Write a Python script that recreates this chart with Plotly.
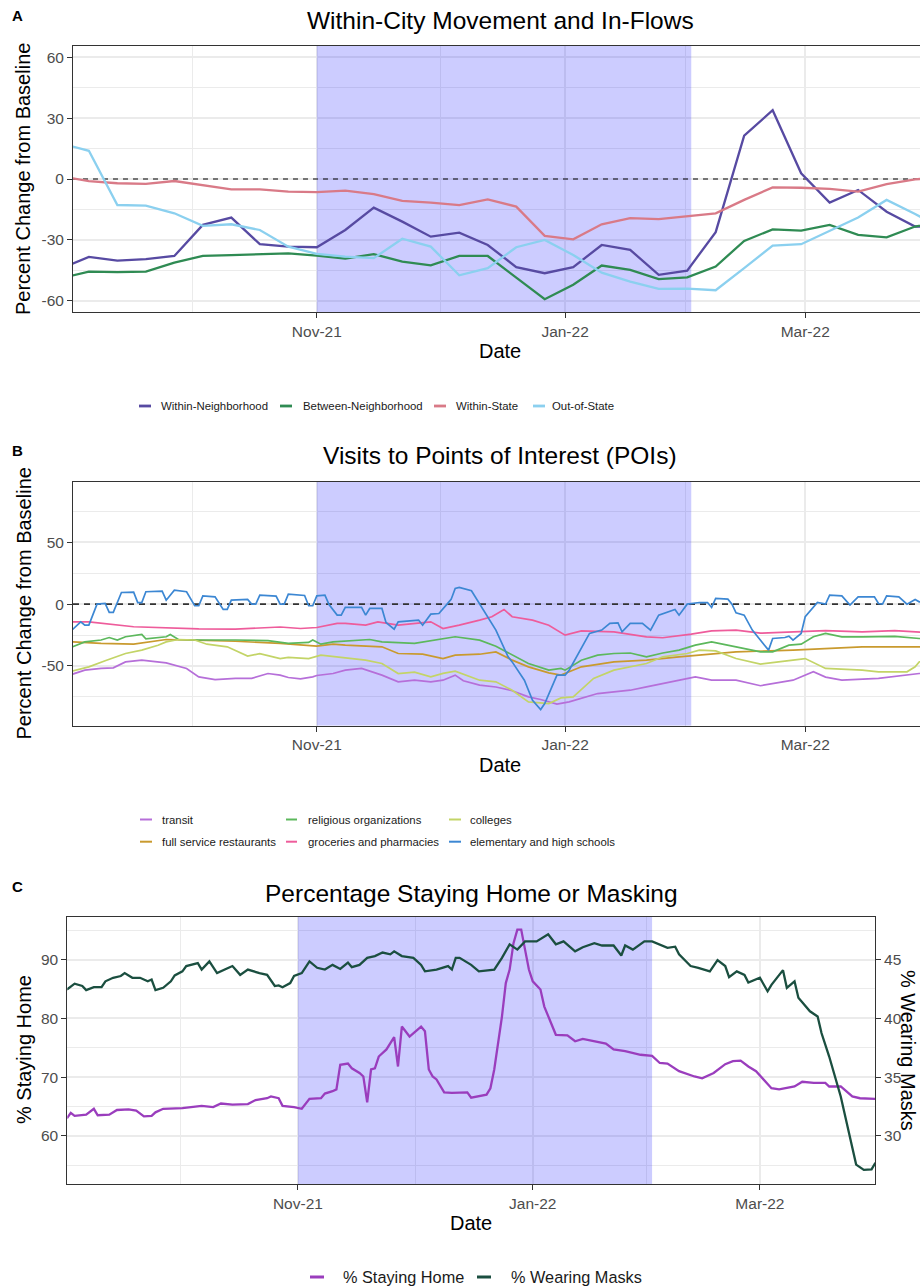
import pandas as pd
import plotly.graph_objects as go

W, H = 920, 1286
FONT = "Liberation Sans, Arial, Helvetica, sans-serif"
BASE = pd.Timestamp("2021-09-01")  # day numbers below are counted from this date

# ---------------- Panel A: weekly flows (Mondays) ----------------
flow_weeks = pd.date_range("2021-08-30", "2022-04-04", freq="7D")
within_nbhd = [-44.1, -38.4, -40.2, -39.5, -37.9, -22.6, -19.0, -32.1, -33.3, -33.6, -25.1, -14.1,
               -21.0, -28.4, -26.4, -32.5, -43.4, -46.4, -43.4, -32.5, -34.9, -47.2, -45.1, -26.2,
               21.3, 33.9, 2.8, -11.6, -5.4, -16.1, -23.4, -24.0]
between_nbhd = [-48.9, -45.6, -45.9, -45.6, -41.2, -37.9, -37.5, -37.2, -36.6, -37.7, -39.2, -37.0,
                -40.7, -42.5, -37.9, -37.9, -48.5, -59.2, -52.1, -42.6, -44.8, -49.3, -48.4, -43.1,
                -30.5, -24.8, -25.4, -22.6, -27.5, -28.7, -23.4, -21.0]
within_state = [1.4, -1.0, -2.1, -2.4, -1.0, -3.0, -5.1, -5.1, -6.2, -6.5, -5.7, -7.4,
                -10.8, -11.6, -12.9, -10.0, -13.6, -28.0, -29.7, -22.3, -19.3, -19.8, -18.5, -16.9,
                -10.3, -4.1, -4.3, -4.9, -6.2, -2.5, -0.2, 1.0]
out_of_state = [17.6, 13.9, -12.8, -13.1, -16.9, -23.1, -22.3, -25.1, -33.3, -36.9, -38.2, -39.0,
                -29.4, -33.3, -47.4, -43.9, -33.6, -30.0, -37.4, -46.1, -50.5, -54.1, -54.0, -54.8,
                -43.9, -32.8, -32.1, -25.6, -19.0, -10.3, -17.2, -25.0]
flow_names = ["Within-Neighborhood", "Between-Neighborhood", "Within-State", "Out-of-State"]
flow_colors = ["#574aa2", "#2f8b53", "#d97a87", "#8bd0ef"]

# ---------------- Panel B: POI visits (day numbers, % change) ----------------
transit_day = [1, 4, 8, 11, 14, 18, 24, 29, 32, 36, 41, 45, 49, 52, 54, 57, 60, 61, 65, 68, 72, 77, 81,
               85, 89, 92, 95, 97, 101, 105, 109, 113, 116, 120, 123, 130, 134, 138, 142, 150, 154,
               158, 164, 170, 178, 183, 186, 190, 199, 209, 211]
transit_val = [-56.6, -53.4, -52.0, -51.5, -46.7, -45.3, -47.5, -52.0, -58.8, -61.0, -60.1, -60.0,
               -56.1, -57.4, -59.3, -60.4, -58.8, -57.7, -56.1, -53.4, -52.0, -57.4, -62.8, -61.5,
               -62.8, -61.5, -57.4, -62.0, -65.5, -67.0, -70.0, -75.0, -77.1, -80.9, -79.0, -72.3,
               -70.9, -69.6, -66.9, -61.5, -58.8, -61.5, -61.5, -66.0, -61.5, -54.7, -59.0, -61.5,
               -60.0, -56.1, -56.0]

restaurant_day = [1, 8, 16, 24, 29, 41, 52, 61, 65, 68, 77, 81, 87, 92, 95, 101, 105, 109, 113, 118,
                  121, 126, 134, 142, 150, 158, 164, 178, 186, 195, 211]
restaurant_val = [-30.5, -31.8, -32.4, -28.6, -29.0, -30.0, -31.8, -34.0, -32.4, -33.2, -34.5, -39.9,
                  -40.5, -44.0, -41.3, -40.5, -38.6, -45.3, -50.7, -55.6, -57.4, -50.7, -46.7, -45.3,
                  -42.6, -40.5, -38.6, -37.2, -35.9, -34.5, -34.5]

religious_day = [1, 4, 8, 10, 12, 14, 18, 19, 24, 25, 27, 32, 41, 49, 54, 59, 60, 62, 65, 73, 74, 77,
                 85, 95, 101, 105, 109, 113, 118, 121, 122, 126, 130, 134, 138, 142, 146, 150, 154,
                 158, 164, 170, 173, 177, 180, 183, 186, 190, 195, 203, 209, 211]
religious_val = [-34.5, -30.5, -29.0, -27.0, -29.0, -26.4, -24.5, -28.0, -26.4, -24.5, -28.6, -29.0,
                 -29.0, -29.5, -31.8, -31.0, -29.0, -32.4, -30.5, -29.0, -28.6, -30.5, -31.8, -26.4,
                 -29.1, -34.0, -41.3, -48.0, -53.4, -52.0, -53.4, -45.3, -41.3, -39.9, -39.5, -42.6,
                 -39.5, -37.2, -33.2, -30.5, -34.5, -38.6, -38.6, -33.2, -32.4, -26.4, -23.7, -26.4,
                 -26.4, -26.0, -27.8, -27.8]

grocery_day = [1, 5, 16, 32, 41, 52, 57, 61, 66, 68, 73, 76, 81, 89, 92, 96, 101, 104, 107, 109, 114,
               118, 122, 126, 134, 142, 146, 153, 158, 164, 170, 178, 186, 195, 203, 211]
grocery_val = [-14.3, -14.3, -18.3, -20.0, -20.2, -18.5, -19.7, -18.9, -15.6, -15.6, -17.0, -14.3,
               -17.0, -14.3, -19.7, -17.0, -12.9, -10.2, -4.3, -10.2, -12.9, -17.0, -25.1, -21.6,
               -22.4, -26.4, -27.2, -24.3, -21.6, -21.0, -23.5, -22.4, -21.5, -22.5, -21.5, -22.9]

college_day = [1, 5, 9, 14, 18, 22, 24, 27, 31, 34, 39, 44, 47, 52, 54, 59, 62, 66, 69, 73, 77, 81,
               85, 89, 92, 95, 101, 105, 109, 113, 118, 121, 124, 129, 134, 138, 142, 146, 152, 155,
               159, 164, 170, 178, 181, 186, 195, 199, 206, 208, 209, 211]
college_val = [-54.0, -50.7, -45.8, -39.9, -37.2, -33.2, -30.5, -28.6, -29.0, -32.4, -34.5, -42.0,
               -40.0, -44.0, -43.0, -44.0, -41.3, -42.6, -44.0, -45.3, -48.0, -56.1, -55.0, -58.8,
               -56.0, -54.2, -61.5, -62.8, -69.6, -79.0, -80.4, -75.8, -75.0, -60.1, -53.4, -50.7,
               -48.0, -42.6, -39.9, -37.2, -37.8, -44.0, -48.5, -45.3, -44.0, -52.0, -53.4, -54.7,
               -54.7, -50.7, -46.7, -44.0]

school_day = [1, 3, 4, 5, 7, 9, 10, 11, 13, 16, 17, 18, 19, 23, 24, 26, 29, 31, 32, 33, 36, 38, 39,
              40, 44, 45, 46, 47, 51, 52, 53, 54, 58, 59, 60, 61, 63, 64, 66, 67, 68, 72, 73, 74, 77,
              78, 80, 81, 86, 87, 89, 91, 93, 94, 95, 96, 99, 101, 105, 108, 109, 112, 114, 116, 117,
              120, 122, 123, 128, 131, 133, 135, 136, 138, 141, 143, 145, 149, 150, 152, 155, 157,
              158, 159, 162, 163, 164, 166, 168, 171, 172, 173, 176, 177, 178, 180, 181, 184, 186,
              187, 190, 192, 194, 198, 199, 200, 201, 204, 206, 208, 209, 211]
school_val = [-20.5, -14.3, -17.0, -17.0, 0.0, 0.5, -6.7, -6.7, 9.4, 9.7, 1.3, 1.3, 10.0, 10.5, 3.2,
              11.3, 10.0, -1.3, -1.3, 6.7, 5.9, -4.3, -4.3, 3.2, 3.8, 0.0, 0.0, 7.3, 6.5, 0.0, 0.0,
              8.1, 7.0, -1.3, -1.3, 6.7, 7.3, -0.3, -8.9, -8.9, -2.7, -2.7, -8.9, -3.5, -3.5, -14.8,
              -20.2, -14.3, -12.9, -17.0, -8.1, -7.6, 0.0, 3.8, 12.7, 13.5, 10.8, 0.5, -21.0, -42.6,
              -46.7, -61.5, -77.7, -85.2, -80.4, -57.4, -57.4, -53.4, -23.7, -21.0, -15.6, -15.1,
              -22.4, -15.6, -15.6, -21.0, -8.9, -4.3, -8.9, 0.0, 1.3, 1.3, -2.7, 4.6, 4.0, 0.0, -7.0,
              -8.9, -21.0, -33.2, -37.2, -27.8, -27.0, -25.9, -29.1, -23.7, -10.2, 1.3, 0.0, 7.3,
              6.7, -0.8, 5.9, 5.9, 0.5, 0.0, 6.7, 5.9, 0.0, 3.8, 1.9, 1.9]

poi_series = [
    ("transit", transit_day, transit_val, "#b66fd9"),
    ("full service restaurants", restaurant_day, restaurant_val, "#c99a2e"),
    ("religious organizations", religious_day, religious_val, "#5cb85c"),
    ("groceries and pharmacies", grocery_day, grocery_val, "#ee5c9b"),
    ("colleges", college_day, college_val, "#c3d467"),
    ("elementary and high schools", school_day, school_val, "#3c87d3"),
]

# ---------------- Panel C: staying home / masking (day numbers) ----------------
home_day = [1, 2, 3, 6, 8, 9, 12, 14, 17, 19, 21, 23, 24, 26, 31, 34, 36, 39, 41, 44, 48, 50, 53,
            54, 56, 57, 60, 62, 64, 67, 68, 70, 71, 72, 74, 75, 77, 78, 79, 80, 81, 82, 84, 86, 87,
            88, 90, 93, 94, 95, 96, 97, 99, 101, 103, 105, 106, 108, 110, 111, 112, 114, 115, 116,
            117, 118, 119, 120, 121, 122, 124, 125, 127, 128, 131, 133, 135, 139, 141, 143, 146,
            150, 153, 155, 157, 160, 164, 166, 169, 172, 174, 176, 178, 180, 184, 186, 190, 192,
            195, 198, 199, 202, 205, 207, 211]
home_val = [63.0, 63.9, 63.4, 63.6, 64.6, 63.5, 63.6, 64.4, 64.5, 64.3, 63.3, 63.4, 64.0, 64.6, 64.7,
            64.9, 65.1, 64.9, 65.5, 65.3, 65.4, 66.1, 66.4, 66.7, 66.4, 65.1, 64.9, 64.6, 66.3, 66.4,
            67.2, 67.6, 67.9, 72.1, 72.3, 71.5, 70.7, 70.1, 65.7, 71.3, 71.5, 73.5, 74.7, 76.8, 71.8,
            78.6, 76.9, 78.6, 77.8, 71.3, 70.1, 69.6, 67.4, 67.3, 67.3, 67.4, 66.5, 66.8, 67.0, 68.1,
            71.3, 80.3, 86.0, 88.3, 92.8, 95.1, 95.1, 91.7, 88.3, 86.3, 84.9, 82.0, 78.6, 77.2,
            77.1, 76.1, 76.5, 75.9, 75.7, 74.7, 74.4, 73.8, 73.6, 72.4, 72.3, 71.0, 70.1, 69.8,
            70.7, 72.2, 72.7, 72.8, 71.8, 71.0, 68.1, 67.9, 68.4, 69.2, 69.0, 69.0, 68.4, 68.4,
            66.7, 66.4, 66.3]

mask_day = [1, 3, 5, 6, 8, 10, 11, 13, 15, 16, 18, 20, 22, 23, 24, 26, 28, 29, 31, 32, 35, 36, 38,
            40, 43, 44, 46, 48, 51, 53, 55, 56, 57, 59, 60, 62, 64, 66, 68, 70, 72, 74, 75, 77, 79,
            81, 83, 85, 86, 88, 91, 93, 94, 97, 100, 101, 102, 103, 106, 108, 112, 114, 116, 118,
            120, 123, 126, 128, 130, 133, 135, 138, 140, 143, 145, 146, 148, 151, 153, 155, 157,
            159, 160, 163, 165, 168, 170, 172, 173, 175, 177, 178, 181, 183, 184, 187, 188, 190,
            191, 194, 196, 197, 199, 202, 204, 206, 208, 210, 211]
mask_val = [42.45, 42.95, 42.75, 42.4, 42.65, 42.65, 43.15, 43.45, 43.6, 43.85, 43.45, 43.45, 43.15,
            43.3, 42.4, 42.6, 43.15, 43.65, 44.0, 44.45, 44.7, 44.15, 44.85, 43.85, 44.3, 44.45,
            43.7, 44.15, 43.85, 43.7, 42.75, 42.8, 42.65, 43.0, 43.6, 43.85, 44.85, 44.3, 44.15,
            44.55, 44.2, 44.75, 44.35, 44.55, 45.15, 45.3, 45.6, 45.45, 45.7, 45.3, 45.15, 44.55,
            44.0, 44.15, 44.45, 44.15, 45.15, 45.15, 44.55, 44.0, 44.15, 45.15, 46.3, 45.85, 46.55,
            46.55, 47.15, 46.3, 46.55, 45.7, 46.05, 46.4, 46.2, 46.2, 45.35, 46.2, 45.85, 46.55,
            46.55, 46.3, 46.0, 46.1, 45.45, 44.45, 44.3, 44.0, 44.95, 44.45, 43.5, 44.0, 43.7,
            43.05, 43.45, 42.3, 42.85, 44.1, 42.6, 43.15, 41.75, 40.6, 40.15, 38.75, 36.75, 33.35,
            30.5, 27.55, 27.1, 27.15, 27.7]

# shaded period and axis windows
shade_start, shade_end = "2021-11-01", "2022-02-01"
range_ab = ["2021-09-02 02:24", "2022-03-29 04:48"]
range_c = ["2021-09-02 02:24", "2022-03-30 21:36"]
yrange_a = [-65.5, 65.5]
yrange_b = [-98.3, 99.0]
yrange_c = [51.8, 97.3]
yrange_c_right = [25.9, 48.65]


def dates(days):
    return [BASE + pd.Timedelta(days=d) for d in days]


def px(x):
    return x / W


def py(y):
    return 1 - y / H


fig = go.Figure()

for name, vals, col in zip(flow_names, [within_nbhd, between_nbhd, within_state, out_of_state], flow_colors):
    fig.add_trace(go.Scatter(x=flow_weeks, y=vals, mode="lines", name=name, showlegend=False,
                             line=dict(color=col, width=2.3), xaxis="x", yaxis="y", hoverinfo="skip"))

for name, d, v, col in poi_series:
    assert len(d) == len(v), name
    fig.add_trace(go.Scatter(x=dates(d), y=v, mode="lines", name=name, showlegend=False,
                             line=dict(color=col, width=1.7), xaxis="x2", yaxis="y2", hoverinfo="skip"))

assert len(home_day) == len(home_val) and len(mask_day) == len(mask_val)
fig.add_trace(go.Scatter(x=dates(home_day), y=home_val, mode="lines", name="% Staying Home",
                         showlegend=False, line=dict(color="#9a3dbd", width=2.3),
                         xaxis="x3", yaxis="y3", hoverinfo="skip"))
fig.add_trace(go.Scatter(x=dates(mask_day), y=mask_val, mode="lines", name="% Wearing Masks",
                         showlegend=False, line=dict(color="#1b4f40", width=2.3),
                         xaxis="x3", yaxis="y4", hoverinfo="skip"))

# ---------------- axes ----------------
GRID = "#EBEBEB"
AXC = "#333333"
month_ticks = ["2021-11-01", "2022-01-01", "2022-03-01"]
month_text = ["Nov-21", "Jan-22", "Mar-22"]
month_minor = ["2021-10-01 12:00", "2021-12-01 12:00", "2022-01-30 12:00"]
tickfont = dict(family=FONT, size=15.5, color="#4D4D4D")


def xaxis_style(domain, rng, anchor):
    return dict(domain=domain, range=rng, anchor=anchor, type="date",
                tickvals=month_ticks, ticktext=month_text, tickfont=tickfont,
                ticks="outside", ticklen=5, tickwidth=1, tickcolor=AXC,
                showgrid=True, gridcolor=GRID, gridwidth=1.6,
                minor=dict(tickvals=month_minor, showgrid=True, gridcolor=GRID, gridwidth=0.8, ticks=""),
                showline=True, linecolor=AXC, linewidth=1, mirror=True, zeroline=False)


def yaxis_style(domain, rng, anchor, major, minor):
    return dict(domain=domain, range=rng, anchor=anchor,
                tickvals=major, ticktext=[str(v) for v in major], tickfont=tickfont,
                ticks="outside", ticklen=5, tickwidth=1, tickcolor=AXC,
                showgrid=True, gridcolor=GRID, gridwidth=1.6,
                minor=dict(tickvals=minor, showgrid=True, gridcolor=GRID, gridwidth=0.8, ticks=""),
                showline=True, linecolor=AXC, linewidth=1, mirror=False, zeroline=False)


fig.update_layout(
    xaxis=xaxis_style([px(73), 1.0], range_ab, "y"),
    yaxis=yaxis_style([py(312), py(46)], yrange_a, "x", [-60, -30, 0, 30, 60], [-45, -15, 15, 45]),
    xaxis2=xaxis_style([px(73), 1.0], range_ab, "y2"),
    yaxis2=yaxis_style([py(725.7), py(481.7)], yrange_b, "x2", [-50, 0, 50], [-75, -25, 25, 75]),
    xaxis3=xaxis_style([px(67.3), px(875)], range_c, "y3"),
    yaxis3=yaxis_style([py(1184), py(916.7)], yrange_c, "x3", [60, 70, 80, 90], [55, 65, 75, 85, 95]),
    yaxis4=dict(overlaying="y3", side="right", anchor="x3", range=yrange_c_right,
                tickvals=[30, 35, 40, 45], ticktext=["30", "35", "40", "45"], tickfont=tickfont,
                ticks="outside", ticklen=5, tickwidth=1, tickcolor=AXC, showgrid=False,
                showline=True, linecolor=AXC, linewidth=1, zeroline=False),
)

# ---------------- shaded period and zero lines ----------------
shapes = []
for xr, yr, rng in [("x", "y", yrange_a), ("x2", "y2", yrange_b), ("x3", "y3", yrange_c)]:
    shapes.append(dict(type="rect", xref=xr, yref=yr, x0=shade_start, x1=shade_end, y0=rng[0], y1=rng[1],
                       fillcolor="rgba(0,0,255,0.2)", line=dict(width=0), layer="between"))
shapes.append(dict(type="line", xref="x", yref="y", x0=range_ab[0], x1=range_ab[1], y0=0, y1=0,
                   line=dict(color="#000000", width=1.1, dash="5px,5px"), layer="between"))
shapes.append(dict(type="line", xref="x2", yref="y2", x0=range_ab[0], x1=range_ab[1], y0=0, y1=0,
                   line=dict(color="#333333", width=1.6, dash="6px,5px"), layer="between"))

annotations = []


def text(x, y, s, size, color="#000000", family=FONT, angle=0, anchor="center", bold=False):
    annotations.append(dict(x=px(x), y=py(y), xref="paper", yref="paper", text=f"<b>{s}</b>" if bold else s,
                            showarrow=False, textangle=angle, xanchor=anchor, yanchor="middle",
                            font=dict(family=family, size=size, color=color)))


def legend_entry(x0, x1, xt, y, label, color, lw, size):
    shapes.append(dict(type="line", xref="paper", yref="paper", x0=px(x0), x1=px(x1), y0=py(y), y1=py(y),
                       line=dict(color=color, width=lw)))
    text(xt, y, label, size, color="#1a1a1a", anchor="left")


# panel A text
text(17, 15, "A", 15, bold=True)
text(500, 21, "Within-City Movement and In-Flows", 24.5)
text(23, 179, "Percent Change from Baseline", 20, angle=-90)
text(500, 351, "Date", 20)
for (x0, x1, xt), label, col in zip([(139, 151, 159), (280, 292, 301), (434, 446, 454), (533, 545, 550)],
                                     flow_names, flow_colors):
    legend_entry(x0, x1, xt, 406, label, col, 2.8, 11.4)

# panel B text
text(17, 450, "B", 15, bold=True)
text(499.5, 456, "Visits to Points of Interest (POIs)", 24.5)
text(23.5, 604, "Percent Change from Baseline", 20, angle=-90)
text(500, 765, "Date", 20)
poi_slots = [(140, 152, 160, 819.5), (140, 152, 160, 841.7), (286, 297, 306, 819.5),
             (286, 297, 306, 841.7), (449, 461, 468, 819.5), (449, 461, 468, 841.7)]
for (x0, x1, xt, y), (label, _, _, col) in zip(poi_slots, poi_series):
    legend_entry(x0, x1, xt, y, label, col, 2.0, 11.4)

# panel C text
text(17, 886, "C", 15, bold=True)
text(471, 893, "Percentage Staying Home or Masking", 24.5)
text(24, 1050, "% Staying Home", 20, angle=-90)
text(908, 1050, "% Wearing Masks", 20, angle=90)
text(471, 1223, "Date", 20)
legend_entry(310, 324, 340.7, 1277, "% Staying Home", "#9a3dbd", 3, 16.3)
legend_entry(477, 491, 509, 1277, "% Wearing Masks", "#1b4f40", 3, 16.3)

fig.update_layout(
    width=W, height=H, autosize=False,
    margin=dict(l=0, r=0, t=0, b=0, pad=0),
    paper_bgcolor="white", plot_bgcolor="white",
    font=dict(family=FONT),
    shapes=shapes, annotations=annotations, showlegend=False,
)

fig.write_html("out.html")
